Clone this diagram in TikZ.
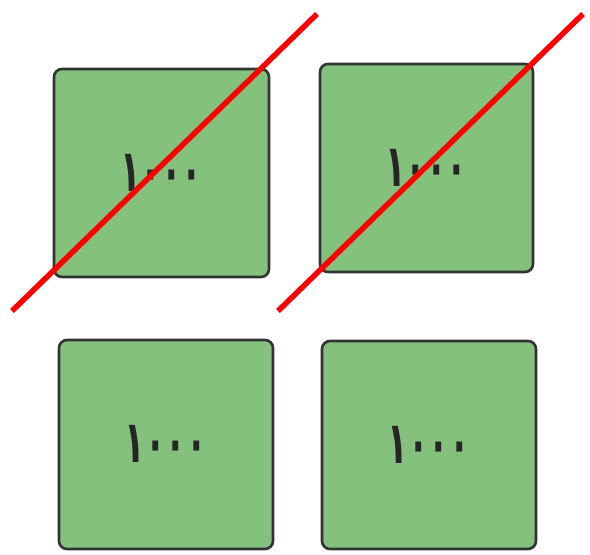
\documentclass[tikz,border=0pt]{standalone}
\usepackage{fontspec}
\newfontfamily\arabicfont[Script=Arabic]{DejaVu Sans}
\begin{document}
\begin{tikzpicture}[x=1pt,y=-1pt,
  card/.style={draw=black!80, line width=2.6pt, fill=cardgreen, rounded corners=8pt},
  num/.style={font=\arabicfont\bfseries\fontsize{48}{48}\selectfont, text=black!85, xscale=0.70, yscale=1.22},
  cross/.style={draw=red, line width=5.5pt}]
\definecolor{cardgreen}{HTML}{84C17D}
\useasboundingbox (0,0) rectangle (590,555);
\path[card] (54,69) rectangle (269,277);
\path[card] (320,64) rectangle (533,272);
\path[card] (59,340) rectangle (273,549);
\path[card] (322,341) rectangle (536,549);
\node[num] (t1) at (161.5,173) {١٠٠٠};
\node[num] (t2) at (426.5,168) {١٠٠٠};
\node[num] (t3) at (166,444) {١٠٠٠};
\node[num] (t4) at (429,445) {١٠٠٠};
\coordinate (a1) at (12,311);
\coordinate (b1) at (317,14);
\coordinate (a2) at (278,311);
\coordinate (b2) at (583,14);
\draw[cross] (a1) -- (b1);
\draw[cross] (a2) -- (b2);
\end{tikzpicture}
\end{document}
